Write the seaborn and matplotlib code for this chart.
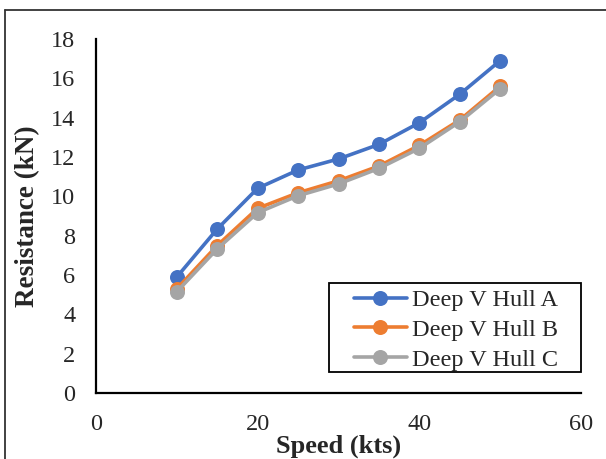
import numpy as np
import pandas as pd
import matplotlib
matplotlib.use("Agg")
import matplotlib.pyplot as plt
from matplotlib.patches import Rectangle
from matplotlib.lines import Line2D
import seaborn as sns

# Hull resistance data
speed = [10, 15, 20, 25, 30, 35, 40, 45, 50]
hull_a = [5.9, 8.34, 10.41, 11.34, 11.9, 12.64, 13.74, 15.19, 16.9]
hull_b = [5.3, 7.5, 9.39, 10.18, 10.79, 11.54, 12.59, 13.88, 15.6]
hull_c = [5.15, 7.33, 9.17, 10.03, 10.63, 11.42, 12.44, 13.79, 15.47]
series_names = ["Deep V Hull A", "Deep V Hull B", "Deep V Hull C"]
colors = ["#4472C4", "#ED7D31", "#A5A5A5"]
x_ticks = [0, 20, 40, 60]
y_ticks = [0, 2, 4, 6, 8, 10, 12, 14, 16, 18]

df = pd.concat([
    pd.DataFrame({"Speed": speed, "Resistance": vals, "Hull": name})
    for name, vals in zip(series_names, [hull_a, hull_b, hull_c])
])

sns.set_style("white")
plt.rcParams["font.family"] = ["Liberation Serif", "DejaVu Serif"]

fig = plt.figure(figsize=(6.06, 4.59), dpi=100)
ax = fig.add_axes([96 / 606, 66 / 459, 485 / 606, 354 / 459])

sns.lineplot(data=df, x="Speed", y="Resistance", hue="Hull",
             palette=colors, marker="o", markersize=10.8,
             markeredgewidth=0, linewidth=2.6, ax=ax, legend=False,
             clip_on=False)

ax.set_xlim(0, 60)
ax.set_ylim(0, 18)
ax.set_xticks(x_ticks)
ax.set_yticks(y_ticks)
ax.tick_params(axis="both", length=0, labelsize=17.5)
ax.tick_params(axis="x", pad=15)
ax.tick_params(axis="y", pad=15)

for side in ["top", "right"]:
    ax.spines[side].set_visible(False)
for side in ["left", "bottom"]:
    ax.spines[side].set_color("black")
    ax.spines[side].set_linewidth(1.6)

ax.set_xlabel("Speed (kts)", fontsize=19, fontweight="bold", labelpad=0)
ax.set_ylabel("Resistance (kN)", fontsize=19.5, fontweight="bold", labelpad=8)

# Legend with a wide, flat frame drawn separately
handles = [Line2D([], [], color=c, marker="o", markersize=10.8,
                  markeredgewidth=0, linewidth=2.6) for c in colors]
leg = ax.legend(handles, series_names, loc="center",
                bbox_to_anchor=(0.742, 0.178), frameon=False,
                fontsize=17.5, handlelength=2.2, handletextpad=0.2,
                labelspacing=0.32, borderpad=0.0)
frame = Rectangle((0.48, 0.06), 0.52, 0.251, transform=ax.transAxes,
                  fill=False, edgecolor="black", linewidth=1.3,
                  clip_on=False, zorder=5)
ax.add_patch(frame)

# Outer panel border (top and left edges)
x_edge = 4.5 / 606
y_edge = 1 - 9.5 / 459
fig.add_artist(Line2D([x_edge, 1.0], [y_edge, y_edge], transform=fig.transFigure,
                      color="#333333", linewidth=1.3))
fig.add_artist(Line2D([x_edge, x_edge], [0.0, y_edge], transform=fig.transFigure,
                      color="#333333", linewidth=1.3))

fig.savefig("out.png", dpi=100)
